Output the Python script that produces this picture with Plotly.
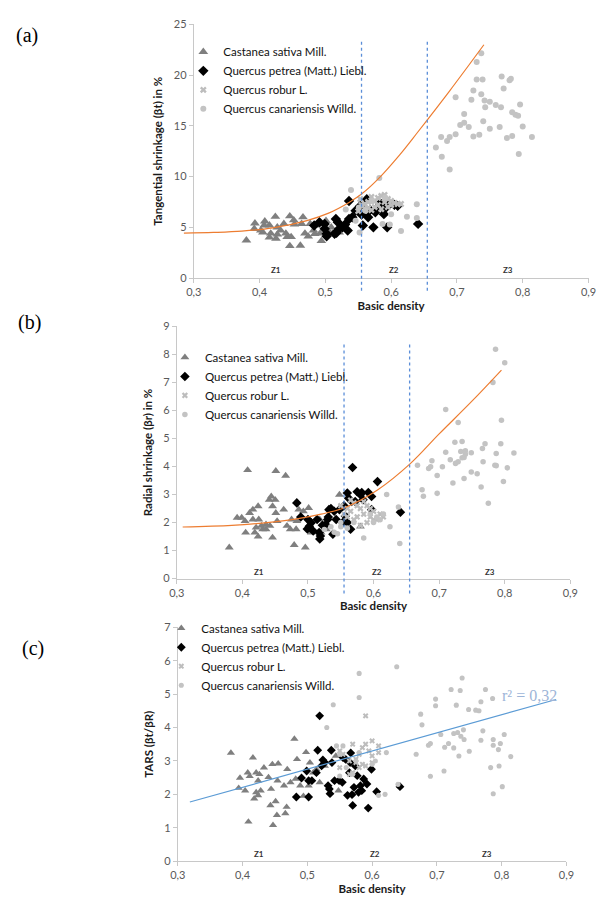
import plotly.graph_objects as go

# ---------------- Panel (a): tangential shrinkage ----------------
a_cast_x = [0.380, 0.393, 0.392, 0.408, 0.405, 0.415, 0.417, 0.415, 0.424, 0.425, 0.427, 0.432, 0.440, 0.442,
            0.446, 0.446, 0.452, 0.453, 0.462, 0.466, 0.464, 0.469, 0.474, 0.477, 0.482, 0.484, 0.494, 0.497,
            0.501, 0.504, 0.509, 0.521, 0.437, 0.427, 0.402, 0.487, 0.492, 0.511, 0.448, 0.407]
a_cast_y = [3.72, 5.40, 4.85, 5.60, 4.50, 5.20, 4.40, 4.00, 6.05, 3.90, 5.00, 4.70, 4.40, 4.05,
            3.17, 6.10, 5.70, 5.30, 3.20, 6.00, 5.35, 4.40, 4.10, 5.35, 4.70, 4.35, 3.66, 5.35,
            5.65, 4.70, 5.00, 4.50, 5.35, 4.30, 4.70, 5.20, 4.40, 4.40, 4.05, 5.20]
a_pet_x = [0.483, 0.491, 0.499, 0.502, 0.502, 0.516, 0.519, 0.517, 0.530, 0.534, 0.536, 0.536, 0.541, 0.553,
           0.555, 0.557, 0.563, 0.565, 0.568, 0.573, 0.576, 0.583, 0.589, 0.590, 0.594, 0.598, 0.605, 0.610,
           0.641, 0.499, 0.521, 0.514, 0.526, 0.546, 0.580, 0.585]
a_pet_y = [5.18, 5.50, 4.86, 4.37, 4.11, 5.83, 5.50, 4.47, 5.28, 4.69, 5.83, 7.60, 6.00, 7.10,
           6.25, 5.18, 7.77, 6.00, 6.70, 5.00, 6.48, 7.35, 6.30, 6.80, 5.00, 7.30, 7.22, 7.12,
           5.34, 5.34, 4.86, 4.37, 5.00, 6.64, 6.97, 7.30]
a_rob_x = [0.553, 0.560, 0.565, 0.570, 0.575, 0.580, 0.585, 0.590, 0.590, 0.595, 0.600, 0.605, 0.610, 0.575,
           0.565, 0.580, 0.600, 0.615, 0.555, 0.570, 0.585, 0.595, 0.550, 0.560]
a_rob_y = [7.80, 7.30, 7.50, 8.00, 7.60, 7.90, 8.10, 8.20, 7.50, 7.80, 7.20, 7.40, 7.30, 7.00,
           6.90, 7.20, 7.60, 7.30, 7.20, 6.70, 6.80, 7.00, 6.60, 6.80]
a_can_x = [0.539, 0.531, 0.582, 0.552, 0.546, 0.587, 0.598, 0.600, 0.615, 0.624, 0.639, 0.639, 0.561, 0.571,
           0.591, 0.551,
           0.668, 0.676, 0.677, 0.685, 0.689, 0.689, 0.698, 0.698, 0.705, 0.711, 0.711, 0.718, 0.722, 0.725,
           0.725, 0.730, 0.730, 0.734, 0.737, 0.737, 0.739, 0.740, 0.742, 0.743, 0.750, 0.750, 0.759, 0.765,
           0.767, 0.768, 0.771, 0.776, 0.780, 0.782, 0.784, 0.784, 0.789, 0.793, 0.794, 0.796, 0.800, 0.814]
a_can_y = [8.67, 6.76, 9.87, 4.50, 5.66, 5.34, 5.27, 6.30, 4.63, 6.05, 7.28, 5.92, 6.63, 7.60,
           7.93, 6.96,
           12.88, 13.90, 11.97, 13.50, 13.90, 10.70, 17.83, 14.17, 15.10, 16.18, 15.30, 14.90, 17.57, 18.50,
           13.95, 21.30, 19.58, 14.14, 22.17, 18.12, 19.58, 15.47, 17.50, 16.83, 17.38, 14.72, 17.05, 14.89,
           16.83, 19.87, 18.70, 13.82, 19.50, 19.64, 16.34, 14.00, 16.10, 16.00, 12.23, 17.10, 14.95, 13.90]
a_fit_x = [0.285, 0.33, 0.373, 0.42, 0.472, 0.505, 0.536, 0.556, 0.58, 0.613, 0.64, 0.689, 0.741]
a_fit_y = [4.43, 4.50, 4.63, 4.95, 5.67, 6.40, 7.45, 8.33, 9.75, 12.15, 14.35, 18.46, 23.0]

# ---------------- Panel (b): radial shrinkage ----------------
b_cast_x = [0.380, 0.392, 0.399, 0.404, 0.408, 0.405, 0.411, 0.416, 0.416, 0.419, 0.424, 0.425, 0.421, 0.424,
            0.431, 0.436, 0.441, 0.444, 0.446, 0.446, 0.450, 0.451, 0.451, 0.453, 0.442, 0.463, 0.466, 0.468,
            0.473, 0.475, 0.479, 0.482, 0.486, 0.493, 0.496, 0.501, 0.505, 0.483, 0.436, 0.429, 0.548, 0.518,
            0.520, 0.528, 0.580]
b_cast_y = [1.11, 2.17, 2.17, 2.05, 3.87, 1.64, 2.34, 2.46, 2.11, 1.64, 2.58, 2.11, 1.82, 1.50,
            1.76, 1.76, 2.81, 2.93, 1.46, 2.58, 2.81, 3.84, 2.34, 2.05, 1.88, 2.46, 3.67, 1.88,
            1.76, 2.11, 1.20, 1.76, 2.46, 2.40, 1.11, 2.52, 1.64, 2.05, 1.93, 1.88, 2.99, 2.11,
            1.64, 1.76, 1.86]
b_pet_x = [0.483, 0.489, 0.500, 0.502, 0.499, 0.505, 0.508, 0.514, 0.517, 0.518, 0.519, 0.522, 0.530, 0.532,
           0.535, 0.538, 0.540, 0.548, 0.553, 0.555, 0.560, 0.562, 0.565, 0.568, 0.567, 0.575, 0.580, 0.582,
           0.584, 0.592, 0.597, 0.606, 0.597, 0.641, 0.560, 0.557, 0.572, 0.531, 0.527, 0.543]
b_pet_y = [2.70, 2.20, 2.11, 1.87, 1.77, 1.99, 1.70, 2.11, 1.64, 1.41, 1.52, 1.90, 2.11, 2.46,
           2.50, 1.58, 2.40, 2.46, 2.00, 2.60, 3.05, 2.87, 1.76, 3.96, 2.75, 3.10, 2.99, 3.07,
           2.81, 3.07, 2.93, 3.46, 2.46, 2.37, 2.00, 2.23, 2.75, 2.20, 1.93, 2.11]
b_rob_x = [0.550, 0.555, 0.560, 0.565, 0.570, 0.575, 0.580, 0.585, 0.590, 0.595, 0.600, 0.605, 0.610, 0.580,
           0.570, 0.590, 0.600, 0.565, 0.585, 0.575, 0.615, 0.560, 0.595]
b_rob_y = [2.60, 2.30, 2.50, 2.40, 2.70, 2.20, 2.50, 2.30, 2.60, 2.20, 2.40, 2.10, 2.30, 1.90,
           2.10, 2.00, 2.10, 2.80, 2.75, 2.60, 2.20, 2.20, 2.50]
b_can_x = [0.535, 0.540, 0.545, 0.550, 0.525, 0.585, 0.600, 0.610, 0.615, 0.620, 0.625, 0.638, 0.640, 0.605,
           0.570, 0.595, 0.550, 0.560,
           0.786, 0.800, 0.782, 0.710, 0.729, 0.795, 0.667, 0.674, 0.676, 0.684, 0.687, 0.689, 0.697, 0.697,
           0.705, 0.710, 0.717, 0.721, 0.724, 0.725, 0.729, 0.733, 0.735, 0.735, 0.738, 0.740, 0.738, 0.740,
           0.749, 0.749, 0.758, 0.764, 0.767, 0.766, 0.770, 0.775, 0.785, 0.787, 0.787, 0.794, 0.798, 0.804,
           0.814]
b_can_y = [1.85, 1.65, 1.60, 1.85, 1.75, 1.45, 2.00, 2.10, 2.30, 3.00, 1.85, 2.55, 1.25, 2.20,
           2.00, 2.30, 2.00, 1.80,
           8.18, 7.70, 7.00, 6.03, 5.57, 5.65, 4.04, 3.17, 2.94, 3.93, 3.99, 4.20, 3.68, 3.04,
           3.99, 4.51, 4.24, 3.41, 4.86, 4.11, 4.17, 4.53, 4.89, 4.31, 4.32, 4.56, 3.57, 4.44,
           4.49, 3.80, 3.74, 3.27, 4.17, 4.64, 4.81, 2.69, 4.04, 4.03, 4.46, 4.81, 3.46, 3.95,
           4.48]
b_fit_x = [0.309, 0.384, 0.434, 0.483, 0.520, 0.555, 0.606, 0.656, 0.700, 0.750, 0.795]
b_fit_y = [1.84, 1.90, 1.99, 2.13, 2.30, 2.52, 3.16, 4.10, 5.16, 6.33, 7.44]

# ---------------- Panel (c): TARS ----------------
c_cast_x = [0.382, 0.394, 0.396, 0.404, 0.408, 0.409, 0.411, 0.416, 0.418, 0.421, 0.421, 0.424, 0.426, 0.428,
            0.433, 0.440, 0.443, 0.444, 0.446, 0.447, 0.451, 0.454, 0.453, 0.455, 0.464, 0.466, 0.468, 0.474,
            0.480, 0.482, 0.489, 0.494, 0.498, 0.502, 0.504, 0.509, 0.519, 0.548, 0.514, 0.424, 0.469, 0.527,
            0.544, 0.484]
c_cast_y = [3.24, 2.19, 2.49, 2.11, 2.65, 1.18, 2.54, 3.10, 1.87, 2.06, 2.65, 2.41, 2.60, 2.11,
            2.80, 2.51, 1.67, 2.16, 2.90, 1.08, 1.79, 2.41, 1.38, 2.92, 2.26, 1.43, 1.62, 2.36,
            3.66, 2.46, 2.26, 1.95, 3.26, 2.26, 2.95, 2.65, 2.36, 2.11, 2.75, 1.97, 2.75, 2.85,
            3.15, 3.05]
c_pet_x = [0.483, 0.491, 0.499, 0.502, 0.502, 0.507, 0.514, 0.516, 0.519, 0.522, 0.524, 0.527, 0.532, 0.534,
           0.535, 0.537, 0.538, 0.542, 0.549, 0.554, 0.555, 0.562, 0.565, 0.567, 0.569, 0.570, 0.572, 0.577,
           0.579, 0.582, 0.584, 0.587, 0.592, 0.594, 0.599, 0.607, 0.643, 0.559, 0.566, 0.574]
c_pet_y = [1.92, 2.49, 2.70, 1.92, 2.41, 2.41, 2.65, 3.32, 4.35, 2.85, 3.03, 2.95, 2.26, 2.16,
           2.02, 3.32, 2.95, 2.41, 2.41, 2.36, 3.10, 1.97, 2.65, 3.24, 1.99, 1.67, 2.21, 2.56,
           2.06, 2.26, 2.11, 2.46, 2.31, 1.59, 2.75, 2.08, 2.23, 3.05, 2.95, 2.85]
c_rob_x = [0.550, 0.565, 0.570, 0.580, 0.585, 0.590, 0.590, 0.600, 0.600, 0.610, 0.610, 0.595, 0.570, 0.580,
           0.575, 0.555, 0.565, 0.590, 0.600, 0.585, 0.575, 0.550]
c_rob_y = [2.80, 3.00, 3.50, 3.20, 2.90, 3.50, 4.35, 3.60, 3.15, 3.25, 3.45, 3.30, 2.65, 2.80,
           3.05, 3.20, 2.60, 2.85, 2.95, 3.40, 2.95, 3.30]
c_can_x = [0.530, 0.540, 0.545, 0.550, 0.555, 0.580, 0.580, 0.560, 0.575, 0.580, 0.600, 0.605, 0.610, 0.620,
           0.622, 0.638, 0.640, 0.570, 0.550,
           0.668, 0.675, 0.677, 0.687, 0.690, 0.690, 0.698, 0.698, 0.706, 0.711, 0.712, 0.718, 0.722, 0.726,
           0.726, 0.730, 0.732, 0.734, 0.736, 0.737, 0.739, 0.741, 0.742, 0.749, 0.750, 0.760, 0.765, 0.768,
           0.768, 0.771, 0.775, 0.783, 0.786, 0.787, 0.787, 0.787, 0.795, 0.796, 0.798, 0.801, 0.804, 0.814]
c_can_y = [4.00, 4.68, 3.45, 3.20, 3.45, 5.62, 4.90, 2.80, 3.00, 3.25, 2.90, 3.00, 1.97, 2.00,
           3.25, 5.82, 2.30, 2.60, 2.55,
           3.20, 4.40, 4.08, 3.47, 2.54, 3.52, 4.85, 4.65, 3.79, 2.70, 3.41, 3.52, 5.14, 3.39,
           3.82, 4.67, 3.85, 3.15, 5.11, 3.74, 5.48, 3.93, 3.64, 4.54, 3.29, 4.52, 4.50, 4.77,
           3.62, 3.90, 5.14, 2.80, 4.87, 3.64, 3.47, 2.02, 3.34, 2.85, 3.52, 2.23, 3.79, 3.13]
c_fit_x = [0.3186, 0.884]
c_fit_y = [1.77, 4.84]

species = ["Castanea sativa Mill.", "Quercus petrea (Matt.) Liebl.", "Quercus robur L.",
           "Quercus canariensis Willd."]
zone_labels = ["Z1", "Z2", "Z3"]
zone_x = [0.425, 0.605, 0.777]
zone_bounds = [0.555, 0.655]
x_ticks = [0.3, 0.4, 0.5, 0.6, 0.7, 0.8, 0.9]
r2_text = "r² = 0,32"

FONT = "Lato, 'Open Sans', sans-serif"
SERIF = "'Liberation Serif', 'DejaVu Serif', serif"
styles = [
    dict(symbol="triangle-up", color="#7f7f7f", size=8.5),
    dict(symbol="diamond", color="#000000", size=8),
    dict(symbol="x", color="#bdbdbd", size=6),
    dict(symbol="circle", color="#c3c3c3", size=6),
]

fig = go.Figure()

panels = [
    (("x", "y", "legend"), [(a_cast_x, a_cast_y), (a_pet_x, a_pet_y), (a_rob_x, a_rob_y), (a_can_x, a_can_y)], 1.0),
    (("x2", "y2", "legend2"), [(b_cast_x, b_cast_y), (b_pet_x, b_pet_y), (b_rob_x, b_rob_y), (b_can_x, b_can_y)], 0.92),
    (("x3", "y3", "legend3"), [(c_cast_x, c_cast_y), (c_pet_x, c_pet_y), (c_rob_x, c_rob_y), (c_can_x, c_can_y)], 0.85),
]

for (xa, ya, lg), series, scale in panels:
    for name, (xs, ys), st in zip(species, series, styles):
        fig.add_trace(go.Scatter(
            x=xs, y=ys, mode="markers", name=name, xaxis=xa, yaxis=ya, legend=lg,
            marker=dict(symbol=st["symbol"], color=st["color"], size=st["size"] * scale, line=dict(width=0)),
            showlegend=True,
        ))

# fitted curves
fig.add_trace(go.Scatter(x=a_fit_x, y=a_fit_y, mode="lines", line=dict(color="#ed7d31", width=1.2, shape="spline"),
                         xaxis="x4", yaxis="y4", showlegend=False, hoverinfo="skip"))
fig.add_trace(go.Scatter(x=b_fit_x, y=b_fit_y, mode="lines", line=dict(color="#ed7d31", width=1.2, shape="spline"),
                         xaxis="x2", yaxis="y2", showlegend=False, hoverinfo="skip"))
fig.add_trace(go.Scatter(x=c_fit_x, y=c_fit_y, mode="lines", line=dict(color="#5b9bd5", width=1.2),
                         xaxis="x3", yaxis="y3", showlegend=False, hoverinfo="skip"))

# geometry (paper fractions)
A_X = [0.3096, 0.9675]; A_Y = [0.6944, 0.9803]
B_X = [0.2813, 0.9372]; B_Y = [0.3556, 0.6400]
C_X = [0.2830, 0.9307]; C_Y = [0.0370, 0.3007]

tickfont = dict(family=FONT, size=11, color="#595959")
titlefont = dict(family=FONT, size=11.5, color="#1a1a1a")

def xax(domain, anchor, title, standoff):
    return dict(domain=domain, anchor=anchor, range=[0.3, 0.9], tickvals=x_ticks, tickformat=".1f",
                showgrid=False, zeroline=False, showline=True, linecolor="#c8c8c8", linewidth=1,
                ticks="outside", ticklen=4, tickcolor="#c8c8c8", tickfont=tickfont,
                title=dict(text="<b>" + title + "</b>", font=titlefont, standoff=standoff))

def yax(domain, anchor, rng, dtick, title, standoff):
    return dict(domain=domain, anchor=anchor, range=rng, dtick=dtick, tick0=0,
                showgrid=False, zeroline=False, showline=True, linecolor="#c8c8c8", linewidth=1,
                ticks="outside", ticklen=4, tickcolor="#c8c8c8", tickfont=tickfont,
                title=dict(text="<b>" + title + "</b>", font=titlefont, standoff=standoff))

leg_common = dict(font=dict(family=FONT, size=11.5, color="#111111"), bgcolor="rgba(0,0,0,0)",
                  xanchor="left", yanchor="top", itemwidth=30, tracegroupgap=0)

fig.update_layout(
    width=616, height=900, margin=dict(l=0, r=0, t=0, b=0),
    paper_bgcolor="white", plot_bgcolor="rgba(0,0,0,0)", separators=", ",
    xaxis=xax(A_X, "y", "Basic density", 4),
    yaxis=yax(A_Y, "x", [0, 25], 5, "Tangential shrinkage (βt) in %", 8),
    xaxis2=xax(B_X, "y2", "Basic density", 4),
    yaxis2=yax(B_Y, "x2", [0, 9], 1, "Radial shrinkage (βr) in %", 8),
    xaxis3=xax(C_X, "y3", "Basic density", 4),
    yaxis3=yax(C_Y, "x3", [0, 7], 1, "TARS (βt/βR)", 8),
    xaxis4=dict(domain=[0.2877, A_X[1]], anchor="y4", range=[0.28, 0.9], visible=False),
    yaxis4=dict(domain=A_Y, anchor="x4", range=[0, 25], visible=False),
    legend=dict(x=0.2922, y=0.9658, **leg_common),
    legend2=dict(x=0.2615, y=0.6213, **leg_common),
    legend3=dict(x=0.2555, y=0.316, **leg_common),
    showlegend=True,
)

# zone boundary dashed lines
for xr, ytop, ybot in [("x", 1 - 35 / 900, 1 - 288 / 900), ("x2", 1 - 340.7 / 900, 1 - 595 / 900)]:
    for xb in zone_bounds:
        fig.add_shape(type="line", xref=xr, yref="paper", x0=xb, x1=xb, y0=ybot, y1=ytop,
                      line=dict(color="#5b8ed8", width=1.3, dash="dot"), layer="above")

# zone labels
for xr, yr, yv in [("x", "y", 0.75), ("x2", "y2", 0.25), ("x3", "y3", 0.2)]:
    for lab, zx in zip(zone_labels, zone_x):
        fig.add_annotation(x=zx, y=yv, xref=xr, yref=yr, text="<b>" + lab + "</b>", showarrow=False,
                           font=dict(family=FONT, size=8, color="#333333"))

# r² label
fig.add_annotation(x=0.8436, y=4.97, xref="x3", yref="y3", text=r2_text, showarrow=False,
                   font=dict(family=SERIF, size=16, color="#9db5d8"))

# panel letters
for lab, px, py in [("(a)", 20, 29), ("(b)", 22, 320), ("(c)", 26, 651)]:
    fig.add_annotation(x=px / 616, y=1 - py / 900, xref="paper", yref="paper", text=lab, showarrow=False,
                       xanchor="center", yanchor="middle",
                       font=dict(family=SERIF, size=20, color="#000000"))

fig.write_html("out.html", config={"displayModeBar": False},
               post_script="document.body.style.margin='0px';document.body.style.padding='0px';")
